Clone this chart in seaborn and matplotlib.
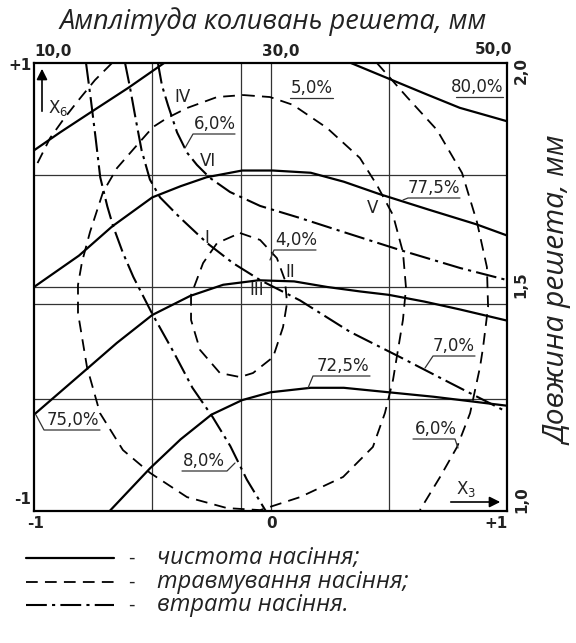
import seaborn as sns
import matplotlib.pyplot as plt
from matplotlib.lines import Line2D

# --- data (coded factors x3, x6 in -1..+1) ---
# purity of seed (solid)
pur80_x = [0.34, 0.50, 0.66, 0.80, 1.00]
pur80_y = [1.00, 0.93, 0.86, 0.80, 0.74]
pur775_upper_x = [-1.00, -0.89, -0.76, -0.60, -0.45]
pur775_upper_y = [0.61, 0.69, 0.78, 0.89, 1.00]
pur775_x = [-1.00, -0.81, -0.67, -0.50, -0.38, -0.27, -0.12, 0.01, 0.17, 0.31, 0.46, 0.67, 0.87, 1.00]
pur775_y = [0.00, 0.14, 0.27, 0.40, 0.45, 0.49, 0.52, 0.52, 0.51, 0.47, 0.415, 0.345, 0.28, 0.23]
pur75_x = [-1.00, -0.77, -0.65, -0.50, -0.34, -0.20, -0.05, 0.10, 0.24, 0.38, 0.50, 0.65, 0.80, 1.00]
pur75_y = [-0.57, -0.36, -0.25, -0.125, -0.04, 0.01, 0.03, 0.025, 0.00, -0.02, -0.035, -0.065, -0.10, -0.15]
pur725_x = [-0.68, -0.51, -0.38, -0.25, -0.12, 0.00, 0.17, 0.31, 0.50, 0.69, 1.00]
pur725_y = [-1.00, -0.81, -0.68, -0.57, -0.505, -0.47, -0.45, -0.45, -0.47, -0.49, -0.53]

# seed losses (dash-dot)
loss8_x = [-0.78, -0.76, -0.74, -0.72, -0.69, -0.665, -0.625, -0.58, -0.50, -0.41, -0.33, -0.245, -0.17, -0.10, -0.02]
loss8_y = [1.00, 0.84, 0.67, 0.49, 0.36, 0.27, 0.155, 0.045, -0.12, -0.29, -0.45, -0.58, -0.71, -0.86, -1.00]
loss7_x = [-0.615, -0.594, -0.57, -0.545, -0.51, -0.467, -0.383, -0.268, -0.159, -0.044, 0.125, 0.336, 0.548, 0.759, 1.00]
loss7_y = [1.00, 0.89, 0.75, 0.61, 0.48, 0.40, 0.31, 0.196, 0.107, 0.031, -0.06, -0.20, -0.313, -0.428, -0.558]
loss6_x = [-0.476, -0.459, -0.433, -0.395, -0.353, -0.311, -0.256, -0.171, -0.044, 0.125, 0.307, 0.548, 0.801, 1.00]
loss6_y = [1.00, 0.90, 0.81, 0.69, 0.60, 0.545, 0.487, 0.424, 0.362, 0.308, 0.246, 0.165, 0.085, 0.031]

# seed injury (dashed)
inj5_x = [-0.116, -0.002, 0.095, 0.239, 0.378, 0.450, 0.518, 0.560, 0.573, 0.560, 0.518, 0.484, 0.433, 0.307,
          0.125, -0.044, -0.184, -0.353, -0.509, -0.624, -0.721, -0.776, -0.814, -0.814, -0.797, -0.763,
          -0.708, -0.649, -0.564, -0.497, -0.438, -0.353, -0.226, -0.116]
inj5_y = [0.857, 0.848, 0.813, 0.710, 0.576, 0.455, 0.321, 0.156, -0.004, -0.147, -0.415, -0.562, -0.714, -0.848,
          -0.938, -0.996, -0.987, -0.938, -0.830, -0.728, -0.563, -0.357, -0.116, 0.009, 0.112, 0.246,
          0.424, 0.531, 0.634, 0.714, 0.754, 0.799, 0.848, 0.857]
inj4_x = [-0.129, -0.044, 0.027, 0.061, 0.070, 0.053, 0.011, -0.074, -0.129, -0.214, -0.298, -0.336, -0.336, -0.285, -0.226, -0.129]
inj4_y = [0.241, 0.210, 0.129, 0.031, -0.071, -0.179, -0.313, -0.384, -0.402, -0.384, -0.281, -0.147, -0.036, 0.107, 0.196, 0.241]
inj6_right_x = [0.450, 0.577, 0.704, 0.810, 0.873, 0.915, 0.920, 0.899, 0.886, 0.844, 0.789, 0.717, 0.632]
inj6_right_y = [1.00, 0.848, 0.701, 0.509, 0.290, 0.089, -0.089, -0.268, -0.357, -0.563, -0.714, -0.848, -0.996]
inj6_left_x = [-0.670, -0.742, -0.818, -0.877, -0.932, -1.00]
inj6_left_y = [1.00, 0.924, 0.826, 0.746, 0.665, 0.522]

grid_x3 = [-0.5, -0.125, 0.0, 0.5]
grid_x6 = [0.5, 0.0, -0.075, -0.5]

W, H = 576, 643


def fp(x, y):
    # pixel position -> figure fraction
    return x / W, 1 - y / H


sns.set_style('white')
plt.rcParams['font.family'] = ['DejaVu Sans']

fig = plt.figure(figsize=(W / 100, H / 100), dpi=100)
ax = fig.add_axes([34 / W, 1 - 511 / H, 473 / W, 448 / H])

for g in grid_x3:
    ax.axvline(g, color='#333333', lw=0.9, zorder=1)
for g in grid_x6:
    ax.axhline(g, color='#333333', lw=0.9, zorder=1)

solid = dict(color='black', lw=1.6, linestyle='-')
dashed = dict(color='black', lw=1.3, linestyle=(0, (6.5, 4)))
dashdot = dict(color='black', lw=1.5, linestyle=(0, (10, 2.5, 1.5, 2.5)))

curves = [
    (pur80_x, pur80_y, solid), (pur775_upper_x, pur775_upper_y, solid), (pur775_x, pur775_y, solid),
    (pur75_x, pur75_y, solid), (pur725_x, pur725_y, solid),
    (loss8_x, loss8_y, dashdot), (loss7_x, loss7_y, dashdot), (loss6_x, loss6_y, dashdot),
    (inj5_x, inj5_y, dashed), (inj4_x, inj4_y, dashed),
    (inj6_right_x, inj6_right_y, dashed), (inj6_left_x, inj6_left_y, dashed),
]
for cx, cy, st in curves:
    sns.lineplot(x=cx, y=cy, sort=False, estimator=None, ax=ax, zorder=3, **st)

ax.set_xlim(-1, 1)
ax.set_ylim(-1, 1)
ax.set_xticks([])
ax.set_yticks([])
for s in ax.spines.values():
    s.set_linewidth(1.6)
    s.set_color('black')

# --- curve labels (underlined, with small leaders) ---
lab = dict(fontsize=12, color='#222222', ha='center', va='center')
labels = [
    ('80,0%', (477, 87), [(456, 97), (503, 97)]),
    ('77,5%', (434, 188), [(403, 200), (408, 198), (460, 198)]),
    ('5,0%', (312, 88), [(290, 98), (333, 98)]),
    ('6,0%', (215, 124), [(185, 148), (193, 134), (235, 134)]),
    ('4,0%', (296, 240), [(270, 260), (274, 250), (316, 250)]),
    ('7,0%', (454, 346), [(425, 368), (433, 356), (475, 356)]),
    ('72,5%', (343, 366), [(308, 388), (313, 376), (370, 376)]),
    ('6,0%', (436, 429), [(413, 439), (455, 439), (458, 448)]),
    ('75,0%', (73, 420), [(36, 415), (44, 430), (100, 430)]),
    ('8,0%', (204, 461), [(182, 471), (227, 471), (235, 463)]),
]
for txt, pos, path in labels:
    fig.text(*fp(*pos), txt, **lab)
    xs = [fp(*p)[0] for p in path]
    ys = [fp(*p)[1] for p in path]
    fig.add_artist(Line2D(xs, ys, transform=fig.transFigure, color='#333333', lw=0.9))

for txt, pos in [('IV', (182, 97)), ('VI', (208, 161)), ('I', (207, 238)), ('II', (290, 272)),
                 ('III', (257, 290)), ('V', (373, 208))]:
    fig.text(*fp(*pos), txt, fontsize=12, color='#222222', ha='center', va='center')

# coded axis arrows
ax.annotate('', xy=fp(42, 66), xytext=fp(42, 114), xycoords='figure fraction',
            textcoords='figure fraction',
            arrowprops=dict(arrowstyle='-|>', color='black', lw=1.2, mutation_scale=16))
ax.annotate('', xy=fp(503, 502), xytext=fp(448, 502), xycoords='figure fraction',
            textcoords='figure fraction',
            arrowprops=dict(arrowstyle='-|>', color='black', lw=1.2, mutation_scale=16))
fig.text(*fp(58, 108), r'X$_6$', fontsize=12, ha='center', va='center', color='#222222')
fig.text(*fp(466, 489), r'X$_3$', fontsize=12, ha='center', va='center', color='#222222')

# coded tick values
tk = dict(fontsize=11, fontweight='bold', color='#222222', va='center')
fig.text(*fp(20, 66), '+1', ha='center', **tk)
fig.text(*fp(23, 500), '-1', ha='center', **tk)
fig.text(*fp(36, 524), '-1', ha='center', **tk)
fig.text(*fp(272, 524), '0', ha='center', **tk)
fig.text(*fp(496, 524), '+1', ha='center', **tk)

# natural scales
fig.text(*fp(53, 51), '10,0', ha='center', **tk)
fig.text(*fp(281, 51), '30,0', ha='center', **tk)
fig.text(*fp(494, 49), '50,0', ha='center', **tk)
fig.text(*fp(521, 70), '2,0', ha='center', rotation=90, **tk)
fig.text(*fp(521, 285), '1,5', ha='center', rotation=90, **tk)
fig.text(*fp(522, 500), '1,0', ha='center', rotation=90, **tk)

it = dict(family=['Open Sans', 'DejaVu Sans'], style='italic', color='#222222')
fig.text(*fp(273, 22), 'Амплітуда коливань решета, мм', fontsize=19.5, ha='center', va='center', **it)
fig.text(*fp(559, 291), 'Довжина решета, мм', fontsize=21.5, ha='center', va='center', rotation=90, **it)

# legend below the chart
leg = [
    ('чистота насіння;', 558, solid),
    ('травмування насіння;', 582, dashed),
    ('втрати насіння.', 605, dashdot),
]
for txt, y, st in leg:
    x0, yy = fp(26, y)
    x1, _ = fp(114, y)
    fig.add_artist(Line2D([x0, x1], [yy, yy], transform=fig.transFigure, **st))
    fig.text(*fp(131, y), '-', fontsize=13, ha='center', va='center', color='#222222')
    fig.text(*fp(157, y), txt, fontsize=17, ha='left', va='center', **it)

fig.savefig('out.png', dpi=100)
